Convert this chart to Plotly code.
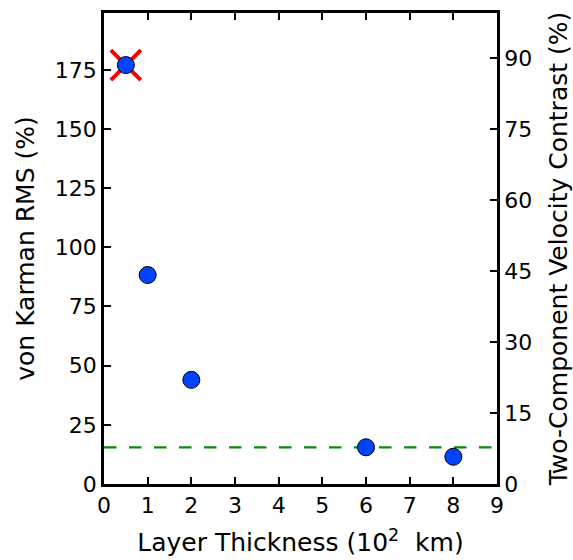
import plotly.graph_objects as go

thickness = [0.5, 1, 2, 6, 8]
vk_rms = [177, 88.3, 44, 15.5, 11.5]
rejected_x = [0.5]
rejected_y = [177]
threshold = 15.5
x_ticks = [0, 1, 2, 3, 4, 5, 6, 7, 8, 9]
left_ticks = [0, 25, 50, 75, 100, 125, 150, 175]
right_ticks = [0, 15, 30, 45, 60, 75, 90]
left_range = [0, 199]
right_range = [0, 99.5]
x_range = [0, 9]

FONT = "DejaVu Sans"
TICK = 22
TITLE = 25
fig = go.Figure()

fig.add_trace(go.Scatter(
    x=x_range, y=[threshold, threshold], mode="lines",
    line=dict(color="#0a8a0a", width=2.3, dash="12.5px,12.5px"),
    showlegend=False, hoverinfo="skip", cliponaxis=False))

fig.add_trace(go.Scatter(
    x=rejected_x, y=rejected_y, mode="markers",
    marker=dict(symbol="x-thin", size=30, line=dict(color="#ff0000", width=4)),
    showlegend=False, cliponaxis=False))

fig.add_trace(go.Scatter(
    x=thickness, y=vk_rms, mode="markers",
    marker=dict(symbol="circle", size=17, color="#0044ff",
                line=dict(color="black", width=1)),
    showlegend=False, cliponaxis=False))

# invisible trace to activate y2
fig.add_trace(go.Scatter(x=[None], y=[None], yaxis="y2", showlegend=False))

axis_common = dict(showgrid=False, zeroline=False, showline=True, linecolor="black",
                   linewidth=2.5, ticks="inside", ticklen=7, tickwidth=1.8,
                   automargin=False,
                   tickcolor="black", tickfont=dict(family=FONT, size=TICK, color="black"))

fig.update_layout(
    width=573, height=560,
    margin=dict(l=104, r=76, t=13, b=76),
    plot_bgcolor="white", paper_bgcolor="white",
    font=dict(family=FONT, size=TICK, color="black"),
    xaxis=dict(range=x_range, tickvals=x_ticks, mirror="ticks",
               title=dict(text="Layer Thickness (10<sup>2</sup>  km)", standoff=17,
                          font=dict(family=FONT, size=TITLE)),
               **axis_common),
    yaxis=dict(range=left_range, tickvals=left_ticks, mirror=True,
               title=dict(text="von Karman RMS (%)", standoff=14,
                          font=dict(family=FONT, size=TITLE)),
               **axis_common),
    yaxis2=dict(range=right_range, tickvals=right_ticks, overlaying="y", side="right",
                title=dict(text="Two-Component Velocity Contrast (%)", standoff=21,
                           font=dict(family=FONT, size=TITLE)),
                **axis_common),
)

fig.write_html("out.html", config={"displayModeBar": False},
               post_script="document.body.style.margin='0';document.body.style.overflow='hidden';")
